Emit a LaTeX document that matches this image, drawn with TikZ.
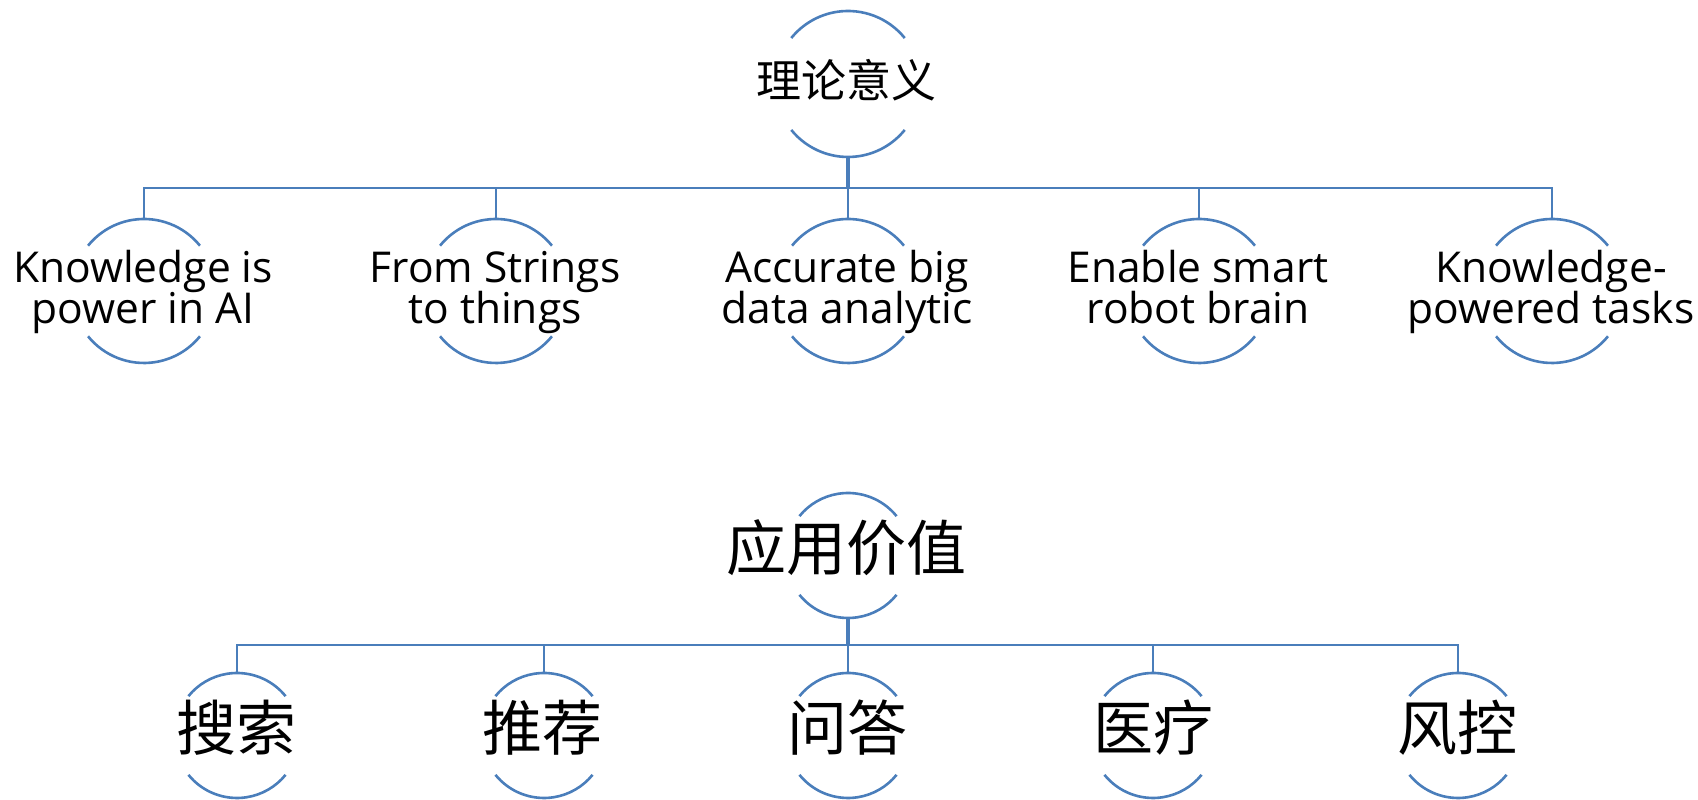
\documentclass[tikz,border=0pt]{standalone}
\usepackage{fontspec}
\setmainfont{Open Sans}
\newfontfamily\cjk{Noto Sans CJK SC}
\definecolor{linkblue}{HTML}{4A7EBB}
\newcommand\labfont{\fontsize{42.5}{41}\selectfont}
\tikzset{
  halo/.style={circle, minimum size=#1, inner sep=0pt, outer sep=0pt},
  ring/.style={draw=linkblue, line width=2.6pt},
  bus/.style={draw=linkblue, line width=2.8pt},
  trunk/.style={draw=linkblue, line width=4.2pt},
  twig/.style={draw=linkblue, line width=2.6pt},
  entxt/.style={font=\labfont, align=center, inner sep=0pt},
  bigcjk/.style={font=\cjk\fontsize{60}{60}\selectfont, inner sep=0pt},
  midcjk/.style={font=\cjk\fontsize{45}{45}\selectfont, inner sep=0pt},
}
% fixed line heights so every two-line label centres the same way
\newcommand\topstrut{\rule{0pt}{32pt}}
\newcommand\botstrut{\rule[-10.5pt]{0pt}{10.5pt}}
\begin{document}
\lineskiplimit=-50pt
\begin{tikzpicture}[x=1pt,y=1pt]
\useasboundingbox (0,0) rectangle (1698,800);

% ---- upper tree ----
\node[halo=146pt] (th) at (848,716) {};
\node[midcjk] (thl) at (846,720) {理论意义};

\node[halo=144pt] (k1) at (144,509) {};
\node[halo=144pt] (k2) at (496,509) {};
\node[halo=144pt] (k3) at (848,509) {};
\node[halo=144pt] (k4) at (1199,509) {};
\node[halo=144pt] (k5) at (1552,509) {};
\node[entxt] (k1l) at (143,508) {\topstrut Knowledge is\\power in AI\botstrut};
\node[entxt] (k2l) at (495,508) {\topstrut From Strings\\to things\botstrut};
\node[entxt] (k3l) at (847,508) {\topstrut Accurate big\\data analytic\botstrut};
\node[entxt] (k4l) at (1198,508) {\topstrut Enable smart\\robot brain\botstrut};
\node[entxt] (k5l) at (1551,508) {\topstrut Knowledge-\\powered tasks\botstrut};

\coordinate (busA) at (848,612);
\draw[trunk] (th.south) -- (th.south |- busA);
\draw[bus] (k1.north) |- (busA) -| (k5.north);
\foreach \n in {k2,k3,k4}
  \draw[twig] (\n.north) -- (\n.north |- busA);

% ---- lower tree ----
\node[halo=125pt] (ap) at (848,244.5) {};
\node[bigcjk] (apl) at (846,252) {应用价值};

\node[halo=125pt] (b1) at (237,64.5) {};
\node[halo=125pt] (b2) at (544,64.5) {};
\node[halo=125pt] (b3) at (848,64.5) {};
\node[halo=125pt] (b4) at (1153,64.5) {};
\node[halo=125pt] (b5) at (1458,64.5) {};
\node[bigcjk] (b1l) at (236,72) {搜索};
\node[bigcjk] (b2l) at (542,72) {推荐};
\node[bigcjk] (b3l) at (847,72) {问答};
\node[bigcjk] (b4l) at (1153,72) {医疗};
\node[bigcjk] (b5l) at (1457,72) {风控};

\coordinate (busB) at (848,155);
\draw[trunk] (ap.south) -- (ap.south |- busB);
\draw[bus] (b1.north) |- (busB) -| (b5.north);
\foreach \n in {b2,b3,b4}
  \draw[twig] (\n.north) -- (\n.north |- busB);

% ---- open rings: an arc above and an arc below each label ----
\foreach \n/\r in {th/73,k1/72,k2/72,k3/72,k4/72,k5/72,
                   ap/62.5,b1/62.5,b2/62.5,b3/62.5,b4/62.5,b5/62.5}{
  \draw[ring] (\n.39) arc[start angle=39, end angle=141, radius=\r];
  \draw[ring] (\n.219) arc[start angle=219, end angle=321, radius=\r];
}
\end{tikzpicture}
\end{document}
